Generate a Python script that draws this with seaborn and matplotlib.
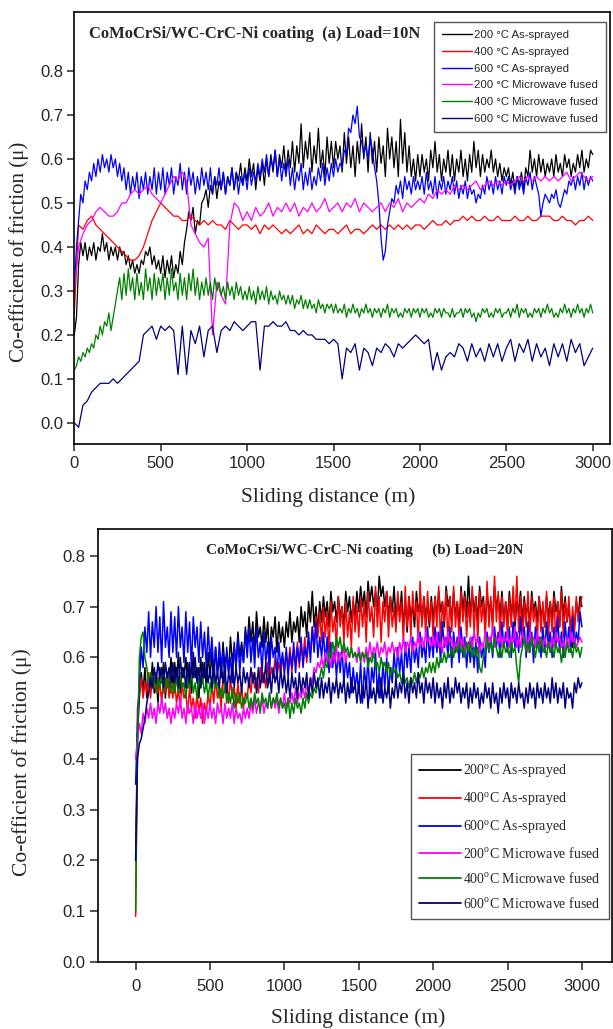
import numpy as np
import pandas as pd
import matplotlib
matplotlib.use("Agg")
import matplotlib.pyplot as plt
import seaborn as sns

# ---------------- data ----------------
SERIES = ["200 As-sprayed", "400 As-sprayed", "600 As-sprayed",
          "200 Microwave fused", "400 Microwave fused", "600 Microwave fused"]
COLORS = ["#000000", "#ff0000", "#0000ff", "#ff00ff", "#008000", "#000080"]
LABELS_A = ["200 °C As-sprayed", "400 °C As-sprayed", "600 °C As-sprayed",
            "200 °C Microwave fused", "400 °C Microwave fused", "600 °C Microwave fused"]
LABELS_B = ["200$^{\\mathregular{o}}$C As-sprayed", "400$^{\\mathregular{o}}$C As-sprayed",
            "600$^{\\mathregular{o}}$C As-sprayed", "200$^{\\mathregular{o}}$C Microwave fused",
            "400$^{\\mathregular{o}}$C Microwave fused", "600$^{\\mathregular{o}}$C Microwave fused"]
X_TICKS = [0, 500, 1000, 1500, 2000, 2500, 3000]
Y_TICKS = [0.0, 0.1, 0.2, 0.3, 0.4, 0.5, 0.6, 0.7, 0.8]

DIST = [i * 25.0 for i in range(121)]        # readings every 25 m
DIST_FINE = [i * 12.5 for i in range(241)]   # readings every 12.5 m

# ---- panel (a) Load = 10 N ----
a_200_as = [0.20, 0.24, 0.36, 0.41, 0.38, 0.41, 0.37, 0.40, 0.38, 0.41, 0.37, 0.40, 0.39, 0.43, 0.39, 0.41, 0.37, 0.40, 0.38, 0.40,
            0.37, 0.40, 0.38, 0.39, 0.36, 0.38, 0.35, 0.37, 0.34, 0.36, 0.34, 0.37, 0.36, 0.39, 0.38, 0.40, 0.36, 0.38, 0.35, 0.37,
            0.34, 0.38, 0.33, 0.37, 0.34, 0.38, 0.33, 0.36, 0.34, 0.39, 0.36, 0.41, 0.44, 0.48, 0.46, 0.49, 0.43, 0.46, 0.45, 0.50,
            0.51, 0.53, 0.49, 0.54, 0.52, 0.56, 0.51, 0.55, 0.53, 0.57, 0.52, 0.56, 0.54, 0.58, 0.53, 0.57, 0.55, 0.59, 0.54, 0.58,
            0.55, 0.60, 0.56, 0.59, 0.53, 0.58, 0.55, 0.59, 0.54, 0.60, 0.56, 0.61, 0.57, 0.62, 0.56, 0.61, 0.58, 0.63, 0.57, 0.62,
            0.58, 0.64, 0.57, 0.63, 0.59, 0.68, 0.58, 0.64, 0.60, 0.66, 0.57, 0.63, 0.59, 0.67, 0.58, 0.62, 0.56, 0.65, 0.59, 0.64,
            0.58, 0.64, 0.60, 0.63, 0.57, 0.66, 0.59, 0.65, 0.58, 0.63, 0.56, 0.64, 0.59, 0.68, 0.60, 0.65, 0.57, 0.66, 0.59, 0.64,
            0.57, 0.65, 0.59, 0.63, 0.56, 0.67, 0.60, 0.65, 0.58, 0.64, 0.56, 0.69, 0.59, 0.66, 0.57, 0.63, 0.56, 0.60, 0.55, 0.61,
            0.56, 0.61, 0.57, 0.60, 0.55, 0.62, 0.58, 0.64, 0.57, 0.61, 0.55, 0.60, 0.57, 0.62, 0.56, 0.61, 0.55, 0.60, 0.57, 0.62,
            0.56, 0.60, 0.55, 0.61, 0.57, 0.64, 0.58, 0.62, 0.56, 0.61, 0.57, 0.60, 0.58, 0.62, 0.57, 0.60, 0.56, 0.59, 0.55, 0.58,
            0.56, 0.58, 0.54, 0.57, 0.53, 0.56, 0.54, 0.57, 0.53, 0.58, 0.56, 0.62, 0.57, 0.60, 0.56, 0.61, 0.57, 0.60, 0.56, 0.59,
            0.57, 0.60, 0.56, 0.61, 0.57, 0.59, 0.56, 0.61, 0.58, 0.60, 0.56, 0.59, 0.57, 0.61, 0.58, 0.62, 0.57, 0.60, 0.58, 0.62,
            0.61]
a_400_as = [0.25, 0.45, 0.44, 0.46, 0.47, 0.45, 0.44, 0.43, 0.42, 0.41,
            0.40, 0.39, 0.38, 0.37, 0.37, 0.38, 0.40, 0.43, 0.46, 0.48,
            0.50, 0.49, 0.48, 0.47, 0.47, 0.46, 0.46, 0.47, 0.46, 0.45,
            0.46, 0.45, 0.46, 0.45, 0.45, 0.44, 0.46, 0.45, 0.44, 0.45,
            0.45, 0.44, 0.45, 0.43, 0.45, 0.44, 0.45, 0.44, 0.43, 0.44,
            0.43, 0.44, 0.45, 0.43, 0.44, 0.43, 0.45, 0.44, 0.43, 0.44,
            0.44, 0.43, 0.44, 0.45, 0.43, 0.44, 0.44, 0.43, 0.44, 0.45,
            0.44, 0.45, 0.44, 0.45, 0.44, 0.45, 0.44, 0.45, 0.44, 0.45,
            0.45, 0.44, 0.45, 0.46, 0.45, 0.45, 0.46, 0.45, 0.46, 0.46,
            0.47, 0.46, 0.47, 0.46, 0.46, 0.47, 0.46, 0.46, 0.47, 0.46,
            0.46, 0.46, 0.47, 0.46, 0.46, 0.47, 0.46, 0.46, 0.47, 0.47,
            0.47, 0.46, 0.46, 0.47, 0.46, 0.46, 0.45, 0.46, 0.46, 0.47,
            0.46]
a_600_as = [0.30, 0.40, 0.46, 0.52, 0.50, 0.55, 0.53, 0.57, 0.55, 0.59, 0.56, 0.60, 0.57, 0.61, 0.58, 0.60, 0.57, 0.61, 0.58, 0.60,
            0.56, 0.59, 0.55, 0.58, 0.53, 0.57, 0.52, 0.56, 0.53, 0.57, 0.51, 0.56, 0.53, 0.57, 0.52, 0.56, 0.53, 0.58, 0.52, 0.57,
            0.53, 0.58, 0.52, 0.57, 0.54, 0.58, 0.52, 0.56, 0.54, 0.59, 0.53, 0.57, 0.52, 0.58, 0.54, 0.57, 0.52, 0.56, 0.53, 0.58,
            0.54, 0.57, 0.53, 0.58, 0.52, 0.56, 0.54, 0.58, 0.53, 0.57, 0.52, 0.56, 0.54, 0.58, 0.53, 0.57, 0.52, 0.56, 0.54, 0.57,
            0.53, 0.58, 0.54, 0.57, 0.55, 0.59, 0.56, 0.60, 0.57, 0.61, 0.56, 0.60, 0.58, 0.62, 0.56, 0.60, 0.55, 0.59, 0.56, 0.60,
            0.54, 0.58, 0.53, 0.57, 0.55, 0.59, 0.53, 0.57, 0.54, 0.58, 0.53, 0.56, 0.54, 0.58, 0.55, 0.59, 0.54, 0.58, 0.55, 0.59,
            0.56, 0.60, 0.57, 0.59, 0.58, 0.62, 0.61, 0.67, 0.66, 0.70, 0.68, 0.72, 0.65, 0.64, 0.61, 0.63, 0.60, 0.65, 0.62, 0.58,
            0.55, 0.50, 0.42, 0.37, 0.39, 0.45, 0.48, 0.51, 0.50, 0.54, 0.52, 0.55, 0.51, 0.56, 0.53, 0.55, 0.52, 0.56, 0.53, 0.55,
            0.53, 0.56, 0.52, 0.57, 0.53, 0.55, 0.52, 0.56, 0.51, 0.55, 0.53, 0.56, 0.52, 0.55, 0.53, 0.56, 0.52, 0.55, 0.51, 0.54,
            0.52, 0.55, 0.51, 0.54, 0.52, 0.53, 0.50, 0.52, 0.51, 0.54, 0.52, 0.56, 0.53, 0.55, 0.52, 0.56, 0.53, 0.55, 0.52, 0.56,
            0.54, 0.56, 0.53, 0.55, 0.52, 0.56, 0.53, 0.55, 0.52, 0.56, 0.54, 0.57, 0.53, 0.56, 0.54, 0.52, 0.47, 0.50, 0.52, 0.51,
            0.50, 0.52, 0.51, 0.53, 0.50, 0.49, 0.51, 0.53, 0.52, 0.55, 0.54, 0.56, 0.53, 0.56, 0.54, 0.57, 0.53, 0.56, 0.54, 0.56,
            0.55]
a_200_mw = [0.30, 0.40, 0.43, 0.45, 0.46, 0.48, 0.49, 0.48, 0.47, 0.47,
            0.48, 0.50, 0.50, 0.52, 0.53, 0.52, 0.53, 0.54, 0.52, 0.51,
            0.50, 0.52, 0.54, 0.56, 0.55, 0.57, 0.55, 0.45, 0.43, 0.41,
            0.40, 0.42, 0.20, 0.32, 0.29, 0.27, 0.45, 0.50, 0.49, 0.46,
            0.48, 0.46, 0.49, 0.47, 0.48, 0.50, 0.47, 0.49, 0.48, 0.50,
            0.48, 0.50, 0.47, 0.49, 0.48, 0.50, 0.48, 0.49, 0.51, 0.48,
            0.49, 0.50, 0.48, 0.50, 0.49, 0.51, 0.48, 0.50, 0.49, 0.48,
            0.49, 0.50, 0.48, 0.50, 0.49, 0.51, 0.48, 0.50, 0.49, 0.50,
            0.51, 0.50, 0.52, 0.51, 0.53, 0.52, 0.53, 0.52, 0.54, 0.53,
            0.54, 0.53, 0.54, 0.55, 0.53, 0.54, 0.55, 0.54, 0.55, 0.54,
            0.55, 0.54, 0.55, 0.56, 0.55, 0.56, 0.55, 0.56, 0.55, 0.56,
            0.55, 0.56, 0.55, 0.56, 0.57, 0.55, 0.56, 0.57, 0.56, 0.55,
            0.56]
a_400_mw = [0.12, 0.13, 0.15, 0.14, 0.16, 0.15, 0.17, 0.16, 0.18, 0.17, 0.20, 0.19, 0.22, 0.20, 0.23, 0.22, 0.25, 0.21, 0.24, 0.27,
            0.30, 0.33, 0.28, 0.34, 0.29, 0.35, 0.30, 0.33, 0.28, 0.34, 0.29, 0.32, 0.28, 0.35, 0.30, 0.33, 0.28, 0.34, 0.29, 0.33,
            0.30, 0.34, 0.28, 0.33, 0.29, 0.35, 0.30, 0.32, 0.28, 0.34, 0.29, 0.33, 0.28, 0.34, 0.30, 0.35, 0.29, 0.33, 0.28, 0.32,
            0.29, 0.33, 0.29, 0.32, 0.28, 0.33, 0.30, 0.32, 0.29, 0.31, 0.28, 0.32, 0.29, 0.31, 0.28, 0.32, 0.29, 0.31, 0.28, 0.30,
            0.28, 0.31, 0.28, 0.30, 0.27, 0.31, 0.28, 0.30, 0.28, 0.31, 0.27, 0.30, 0.28, 0.29, 0.27, 0.30, 0.28, 0.29, 0.27, 0.29,
            0.27, 0.29, 0.26, 0.28, 0.27, 0.29, 0.26, 0.28, 0.26, 0.28, 0.26, 0.27, 0.25, 0.28, 0.26, 0.27, 0.25, 0.27, 0.26, 0.27,
            0.25, 0.27, 0.25, 0.26, 0.25, 0.27, 0.24, 0.26, 0.25, 0.27, 0.25, 0.26, 0.24, 0.26, 0.25, 0.27, 0.25, 0.26, 0.24, 0.26,
            0.25, 0.26, 0.24, 0.26, 0.25, 0.27, 0.24, 0.26, 0.25, 0.26, 0.24, 0.25, 0.24, 0.26, 0.25, 0.26, 0.24, 0.26, 0.25, 0.26,
            0.24, 0.26, 0.25, 0.26, 0.24, 0.25, 0.24, 0.26, 0.25, 0.26, 0.24, 0.26, 0.25, 0.25, 0.24, 0.26, 0.24, 0.25, 0.25, 0.26,
            0.24, 0.26, 0.25, 0.26, 0.24, 0.25, 0.23, 0.25, 0.24, 0.26, 0.25, 0.26, 0.24, 0.25, 0.24, 0.26, 0.25, 0.26, 0.24, 0.25,
            0.25, 0.26, 0.24, 0.26, 0.25, 0.27, 0.24, 0.26, 0.25, 0.26, 0.24, 0.25, 0.24, 0.26, 0.25, 0.26, 0.24, 0.26, 0.25, 0.27,
            0.25, 0.26, 0.24, 0.25, 0.24, 0.26, 0.25, 0.27, 0.25, 0.26, 0.24, 0.26, 0.25, 0.27, 0.25, 0.26, 0.24, 0.26, 0.25, 0.27,
            0.25]
a_600_mw = [0.00, -0.01, 0.04, 0.05, 0.07, 0.08, 0.09, 0.09, 0.09, 0.10,
            0.09, 0.10, 0.11, 0.12, 0.13, 0.14, 0.20, 0.21, 0.22, 0.19,
            0.22, 0.21, 0.22, 0.21, 0.11, 0.22, 0.11, 0.21, 0.18, 0.22,
            0.15, 0.21, 0.22, 0.16, 0.21, 0.22, 0.21, 0.23, 0.22, 0.21,
            0.22, 0.23, 0.23, 0.12, 0.22, 0.22, 0.23, 0.22, 0.22, 0.23,
            0.21, 0.21, 0.20, 0.21, 0.20, 0.20, 0.19, 0.19, 0.19, 0.18,
            0.19, 0.18, 0.10, 0.17, 0.16, 0.18, 0.12, 0.17, 0.16, 0.13,
            0.17, 0.16, 0.18, 0.17, 0.15, 0.18, 0.17, 0.18, 0.19, 0.20,
            0.19, 0.18, 0.19, 0.12, 0.16, 0.12, 0.15, 0.16, 0.15, 0.18,
            0.17, 0.14, 0.18, 0.15, 0.17, 0.14, 0.18, 0.15, 0.18, 0.14,
            0.17, 0.19, 0.14, 0.18, 0.16, 0.19, 0.14, 0.18, 0.15, 0.17,
            0.13, 0.18, 0.15, 0.18, 0.14, 0.19, 0.16, 0.18, 0.13, 0.15,
            0.17]

# ---- panel (b) Load = 20 N (readings every 12.5 m) ----
b_200_as = [0.20, 0.45, 0.52, 0.57, 0.53, 0.58, 0.52, 0.56, 0.54, 0.59, 0.53, 0.57, 0.51, 0.58, 0.55, 0.59, 0.52, 0.57, 0.54, 0.60,
            0.54, 0.59, 0.55, 0.61, 0.53, 0.58, 0.56, 0.60, 0.54, 0.59, 0.53, 0.61, 0.56, 0.58, 0.52, 0.60, 0.55, 0.59, 0.54, 0.61,
            0.56, 0.61, 0.55, 0.62, 0.57, 0.60, 0.56, 0.63, 0.58, 0.61, 0.57, 0.64, 0.59, 0.62, 0.58, 0.65, 0.60, 0.63, 0.59, 0.66,
            0.62, 0.68, 0.63, 0.67, 0.61, 0.69, 0.64, 0.66, 0.62, 0.68, 0.63, 0.67, 0.60, 0.66, 0.64, 0.68, 0.61, 0.67, 0.63, 0.66,
            0.62, 0.67, 0.64, 0.69, 0.63, 0.67, 0.65, 0.68, 0.63, 0.70, 0.66, 0.69, 0.64, 0.71, 0.67, 0.73, 0.66, 0.70, 0.65, 0.71,
            0.67, 0.72, 0.68, 0.71, 0.66, 0.73, 0.69, 0.71, 0.67, 0.72, 0.68, 0.70, 0.66, 0.73, 0.69, 0.72, 0.67, 0.71, 0.68, 0.73,
            0.69, 0.74, 0.70, 0.73, 0.68, 0.75, 0.71, 0.74, 0.70, 0.73, 0.69, 0.76, 0.72, 0.74, 0.70, 0.73, 0.68, 0.72, 0.69, 0.74,
            0.67, 0.72, 0.68, 0.73, 0.66, 0.71, 0.65, 0.72, 0.68, 0.70, 0.66, 0.73, 0.69, 0.71, 0.67, 0.72, 0.68, 0.70, 0.66, 0.72,
            0.67, 0.72, 0.68, 0.73, 0.69, 0.71, 0.66, 0.74, 0.70, 0.72, 0.67, 0.73, 0.68, 0.71, 0.66, 0.74, 0.69, 0.73, 0.68, 0.76,
            0.68, 0.73, 0.69, 0.72, 0.67, 0.74, 0.70, 0.72, 0.66, 0.73, 0.69, 0.71, 0.67, 0.74, 0.70, 0.72, 0.68, 0.73, 0.67, 0.71,
            0.67, 0.73, 0.68, 0.72, 0.66, 0.71, 0.69, 0.73, 0.67, 0.72, 0.68, 0.71, 0.66, 0.73, 0.69, 0.71, 0.67, 0.72, 0.68, 0.70,
            0.66, 0.72, 0.68, 0.71, 0.67, 0.73, 0.69, 0.71, 0.66, 0.74, 0.68, 0.72, 0.67, 0.70, 0.65, 0.62, 0.66, 0.71, 0.68, 0.72,
            0.70]
b_400_as = [0.09, 0.50, 0.53, 0.56, 0.52, 0.55, 0.53, 0.57, 0.52, 0.56, 0.54, 0.57, 0.53, 0.55, 0.51, 0.56, 0.53, 0.57, 0.52, 0.55,
            0.52, 0.55, 0.51, 0.54, 0.50, 0.55, 0.52, 0.53, 0.49, 0.54, 0.50, 0.52, 0.48, 0.53, 0.49, 0.52, 0.47, 0.51, 0.49, 0.53,
            0.50, 0.55, 0.51, 0.56, 0.52, 0.54, 0.50, 0.57, 0.53, 0.55, 0.51, 0.56, 0.52, 0.54, 0.50, 0.55, 0.51, 0.54, 0.50, 0.53,
            0.52, 0.56, 0.53, 0.57, 0.54, 0.56, 0.53, 0.58, 0.55, 0.57, 0.54, 0.59, 0.55, 0.58, 0.56, 0.60, 0.56, 0.59, 0.57, 0.60,
            0.57, 0.61, 0.58, 0.62, 0.57, 0.61, 0.59, 0.63, 0.58, 0.62, 0.60, 0.64, 0.59, 0.63, 0.61, 0.66, 0.62, 0.68, 0.64, 0.69,
            0.63, 0.70, 0.64, 0.69, 0.61, 0.71, 0.65, 0.68, 0.62, 0.72, 0.66, 0.70, 0.63, 0.71, 0.64, 0.69, 0.62, 0.72, 0.65, 0.70,
            0.64, 0.72, 0.66, 0.71, 0.63, 0.73, 0.67, 0.70, 0.64, 0.74, 0.66, 0.72, 0.63, 0.71, 0.67, 0.73, 0.64, 0.72, 0.66, 0.70,
            0.65, 0.73, 0.67, 0.71, 0.63, 0.74, 0.66, 0.72, 0.64, 0.73, 0.68, 0.71, 0.63, 0.75, 0.66, 0.72, 0.64, 0.73, 0.67, 0.71,
            0.64, 0.72, 0.66, 0.74, 0.63, 0.71, 0.67, 0.73, 0.62, 0.72, 0.65, 0.74, 0.66, 0.71, 0.63, 0.73, 0.67, 0.72, 0.64, 0.71,
            0.66, 0.74, 0.65, 0.72, 0.63, 0.73, 0.67, 0.71, 0.64, 0.75, 0.66, 0.72, 0.65, 0.76, 0.67, 0.73, 0.64, 0.72, 0.66, 0.71,
            0.64, 0.72, 0.66, 0.74, 0.67, 0.76, 0.65, 0.72, 0.63, 0.71, 0.66, 0.73, 0.64, 0.72, 0.67, 0.70, 0.63, 0.72, 0.65, 0.71,
            0.66, 0.73, 0.64, 0.71, 0.65, 0.72, 0.63, 0.71, 0.66, 0.73, 0.64, 0.71, 0.67, 0.72, 0.64, 0.70, 0.65, 0.72, 0.67, 0.70,
            0.72]
b_600_as = [0.35, 0.47, 0.55, 0.62, 0.58, 0.66, 0.61, 0.69, 0.60, 0.67, 0.62, 0.70, 0.61, 0.68, 0.59, 0.71, 0.62, 0.66, 0.60, 0.69,
            0.61, 0.68, 0.60, 0.70, 0.62, 0.66, 0.59, 0.69, 0.61, 0.67, 0.58, 0.68, 0.62, 0.66, 0.59, 0.67, 0.60, 0.65, 0.58, 0.66,
            0.59, 0.64, 0.57, 0.62, 0.56, 0.63, 0.58, 0.61, 0.55, 0.62, 0.57, 0.60, 0.55, 0.63, 0.58, 0.64, 0.57, 0.62, 0.59, 0.65,
            0.60, 0.66, 0.59, 0.64, 0.58, 0.66, 0.60, 0.63, 0.57, 0.65, 0.59, 0.63, 0.57, 0.64, 0.60, 0.62, 0.56, 0.63, 0.58, 0.61,
            0.57, 0.62, 0.56, 0.61, 0.58, 0.63, 0.57, 0.62, 0.59, 0.64, 0.58, 0.62, 0.60, 0.65, 0.59, 0.66, 0.61, 0.67, 0.60, 0.64,
            0.60, 0.65, 0.59, 0.64, 0.57, 0.63, 0.58, 0.62, 0.56, 0.61, 0.57, 0.62, 0.55, 0.60, 0.56, 0.59, 0.53, 0.58, 0.54, 0.57,
            0.53, 0.59, 0.51, 0.58, 0.54, 0.60, 0.52, 0.58, 0.55, 0.61, 0.53, 0.57, 0.52, 0.59, 0.54, 0.60, 0.53, 0.58, 0.55, 0.61,
            0.56, 0.62, 0.57, 0.61, 0.55, 0.63, 0.58, 0.62, 0.57, 0.64, 0.59, 0.62, 0.58, 0.65, 0.60, 0.63, 0.59, 0.66, 0.60, 0.64,
            0.60, 0.66, 0.61, 0.65, 0.59, 0.67, 0.62, 0.64, 0.60, 0.66, 0.58, 0.65, 0.61, 0.64, 0.59, 0.66, 0.60, 0.64, 0.58, 0.63,
            0.59, 0.64, 0.58, 0.63, 0.57, 0.64, 0.60, 0.62, 0.58, 0.65, 0.61, 0.64, 0.60, 0.66, 0.62, 0.65, 0.60, 0.67, 0.62, 0.65,
            0.61, 0.66, 0.60, 0.67, 0.62, 0.65, 0.61, 0.68, 0.62, 0.66, 0.60, 0.67, 0.61, 0.65, 0.59, 0.66, 0.62, 0.64, 0.60, 0.66,
            0.61, 0.67, 0.62, 0.65, 0.60, 0.66, 0.62, 0.68, 0.61, 0.65, 0.60, 0.67, 0.62, 0.66, 0.61, 0.68, 0.62, 0.65, 0.63, 0.69,
            0.66]
b_200_mw = [0.40, 0.44, 0.47, 0.45, 0.49, 0.47, 0.50, 0.48, 0.51, 0.48, 0.50, 0.47, 0.51, 0.49, 0.52, 0.49, 0.51, 0.48, 0.50, 0.47,
            0.50, 0.48, 0.51, 0.49, 0.52, 0.48, 0.50, 0.47, 0.51, 0.49, 0.50, 0.47, 0.51, 0.48, 0.50, 0.48, 0.51, 0.47, 0.50, 0.48,
            0.51, 0.48, 0.50, 0.47, 0.51, 0.49, 0.50, 0.47, 0.51, 0.48, 0.50, 0.48, 0.51, 0.47, 0.50, 0.48, 0.49, 0.47, 0.50, 0.48,
            0.50, 0.48, 0.51, 0.49, 0.52, 0.49, 0.51, 0.50, 0.52, 0.49, 0.51, 0.50, 0.53, 0.50, 0.52, 0.50, 0.52, 0.49, 0.52, 0.50,
            0.53, 0.50, 0.52, 0.51, 0.53, 0.51, 0.54, 0.51, 0.53, 0.52, 0.54, 0.52, 0.55, 0.53, 0.56, 0.55, 0.58, 0.57, 0.59, 0.58,
            0.60, 0.58, 0.61, 0.59, 0.60, 0.58, 0.61, 0.59, 0.62, 0.59, 0.61, 0.60, 0.62, 0.59, 0.61, 0.60, 0.62, 0.60, 0.61, 0.59,
            0.62, 0.60, 0.61, 0.59, 0.62, 0.60, 0.63, 0.60, 0.62, 0.61, 0.63, 0.60, 0.62, 0.61, 0.63, 0.60, 0.62, 0.61, 0.63, 0.61,
            0.62, 0.60, 0.63, 0.61, 0.64, 0.61, 0.63, 0.62, 0.64, 0.61, 0.63, 0.62, 0.65, 0.62, 0.64, 0.62, 0.65, 0.63, 0.64, 0.62,
            0.64, 0.62, 0.65, 0.62, 0.63, 0.61, 0.64, 0.62, 0.65, 0.63, 0.64, 0.61, 0.63, 0.62, 0.65, 0.62, 0.64, 0.61, 0.63, 0.62,
            0.64, 0.62, 0.65, 0.63, 0.64, 0.61, 0.63, 0.62, 0.65, 0.62, 0.64, 0.63, 0.66, 0.62, 0.64, 0.63, 0.65, 0.62, 0.64, 0.63,
            0.65, 0.62, 0.64, 0.63, 0.66, 0.62, 0.64, 0.62, 0.65, 0.63, 0.64, 0.61, 0.65, 0.63, 0.64, 0.62, 0.65, 0.63, 0.64, 0.62,
            0.64, 0.62, 0.63, 0.61, 0.64, 0.62, 0.65, 0.63, 0.64, 0.62, 0.63, 0.61, 0.64, 0.62, 0.65, 0.63, 0.64, 0.62, 0.63, 0.64,
            0.63]
b_400_mw = [0.10, 0.42, 0.60, 0.64, 0.65, 0.60, 0.58, 0.55, 0.57, 0.54, 0.56, 0.53, 0.56, 0.54, 0.57, 0.53, 0.56, 0.54, 0.57, 0.53,
            0.55, 0.53, 0.56, 0.53, 0.57, 0.54, 0.55, 0.52, 0.56, 0.54, 0.57, 0.53, 0.55, 0.52, 0.56, 0.54, 0.56, 0.53, 0.55, 0.52,
            0.55, 0.53, 0.56, 0.54, 0.55, 0.52, 0.54, 0.52, 0.55, 0.51, 0.53, 0.51, 0.54, 0.50, 0.53, 0.51, 0.53, 0.50, 0.52, 0.51,
            0.53, 0.50, 0.52, 0.50, 0.53, 0.51, 0.52, 0.49, 0.53, 0.51, 0.52, 0.50, 0.53, 0.50, 0.52, 0.51, 0.53, 0.50, 0.52, 0.50,
            0.51, 0.49, 0.52, 0.48, 0.51, 0.49, 0.52, 0.50, 0.51, 0.49, 0.52, 0.50, 0.53, 0.51, 0.53, 0.52, 0.54, 0.53, 0.55, 0.56,
            0.58, 0.56, 0.59, 0.58, 0.61, 0.60, 0.63, 0.61, 0.64, 0.62, 0.64, 0.61, 0.63, 0.61, 0.62, 0.60, 0.62, 0.60, 0.61, 0.60,
            0.61, 0.59, 0.61, 0.60, 0.61, 0.58, 0.60, 0.59, 0.61, 0.58, 0.59, 0.57, 0.60, 0.58, 0.59, 0.57, 0.59, 0.56, 0.58, 0.57,
            0.58, 0.56, 0.57, 0.55, 0.57, 0.55, 0.56, 0.54, 0.56, 0.55, 0.57, 0.55, 0.57, 0.56, 0.58, 0.56, 0.58, 0.57, 0.59, 0.57,
            0.59, 0.57, 0.60, 0.58, 0.60, 0.59, 0.61, 0.59, 0.61, 0.60, 0.62, 0.60, 0.62, 0.61, 0.63, 0.61, 0.62, 0.60, 0.63, 0.61,
            0.63, 0.60, 0.62, 0.60, 0.62, 0.58, 0.57, 0.60, 0.62, 0.64, 0.61, 0.63, 0.61, 0.64, 0.62, 0.60, 0.62, 0.60, 0.63, 0.61,
            0.62, 0.60, 0.63, 0.61, 0.62, 0.58, 0.55, 0.60, 0.62, 0.64, 0.61, 0.63, 0.61, 0.64, 0.62, 0.60, 0.63, 0.61, 0.64, 0.61,
            0.62, 0.60, 0.63, 0.61, 0.62, 0.60, 0.63, 0.61, 0.62, 0.59, 0.62, 0.60, 0.63, 0.61, 0.62, 0.60, 0.63, 0.61, 0.62, 0.60,
            0.62]
b_600_mw = [0.20, 0.40, 0.43, 0.44, 0.46, 0.48, 0.51, 0.53, 0.56, 0.54, 0.58, 0.55, 0.59, 0.56, 0.58, 0.54, 0.59, 0.56, 0.58, 0.55,
            0.59, 0.55, 0.58, 0.54, 0.60, 0.56, 0.58, 0.54, 0.59, 0.55, 0.58, 0.56, 0.60, 0.55, 0.58, 0.54, 0.59, 0.56, 0.58, 0.55,
            0.58, 0.54, 0.59, 0.55, 0.57, 0.54, 0.59, 0.55, 0.58, 0.53, 0.57, 0.55, 0.59, 0.54, 0.58, 0.55, 0.57, 0.53, 0.58, 0.55,
            0.57, 0.54, 0.58, 0.55, 0.57, 0.53, 0.58, 0.54, 0.57, 0.55, 0.59, 0.54, 0.57, 0.53, 0.58, 0.55, 0.57, 0.53, 0.58, 0.54,
            0.57, 0.53, 0.56, 0.52, 0.57, 0.54, 0.56, 0.52, 0.57, 0.53, 0.56, 0.54, 0.57, 0.52, 0.56, 0.53, 0.57, 0.54, 0.56, 0.52,
            0.56, 0.52, 0.55, 0.53, 0.56, 0.51, 0.55, 0.53, 0.56, 0.52, 0.55, 0.53, 0.56, 0.51, 0.55, 0.52, 0.56, 0.53, 0.55, 0.51,
            0.55, 0.51, 0.54, 0.52, 0.56, 0.50, 0.55, 0.52, 0.54, 0.51, 0.55, 0.52, 0.56, 0.51, 0.54, 0.52, 0.55, 0.50, 0.54, 0.52,
            0.56, 0.52, 0.55, 0.53, 0.57, 0.52, 0.55, 0.51, 0.56, 0.53, 0.55, 0.52, 0.57, 0.53, 0.55, 0.51, 0.56, 0.53, 0.55, 0.52,
            0.56, 0.51, 0.55, 0.52, 0.54, 0.50, 0.55, 0.52, 0.56, 0.51, 0.54, 0.52, 0.56, 0.53, 0.55, 0.51, 0.54, 0.52, 0.55, 0.50,
            0.54, 0.51, 0.55, 0.52, 0.54, 0.50, 0.53, 0.51, 0.55, 0.52, 0.54, 0.50, 0.55, 0.51, 0.53, 0.49, 0.54, 0.51, 0.55, 0.52,
            0.54, 0.50, 0.55, 0.52, 0.54, 0.51, 0.55, 0.52, 0.53, 0.50, 0.54, 0.51, 0.55, 0.52, 0.54, 0.50, 0.55, 0.52, 0.54, 0.51,
            0.55, 0.52, 0.54, 0.51, 0.56, 0.52, 0.55, 0.51, 0.54, 0.52, 0.55, 0.50, 0.54, 0.52, 0.53, 0.50, 0.55, 0.53, 0.56, 0.54,
            0.55]

PANEL_A = [a_200_as, a_400_as, a_600_as, a_200_mw, a_400_mw, a_600_mw]
PANEL_B = [b_200_as, b_400_as, b_600_as, b_200_mw, b_400_mw, b_600_mw]


def long_frame(values):
    rows = []
    for name, vals in zip(SERIES, values):
        dist = DIST if len(vals) == len(DIST) else DIST_FINE
        n = min(len(vals), len(dist))
        rows.append(pd.DataFrame({"dist": dist[:n], "cof": vals[:n], "series": name}))
    return pd.concat(rows, ignore_index=True)


# ---------------- style ----------------
sns.set_theme(style="ticks")
plt.rcParams["font.family"] = ["Liberation Sans", "DejaVu Sans"]
plt.rcParams["mathtext.fontset"] = "custom"
plt.rcParams["mathtext.rm"] = "Liberation Serif"
plt.rcParams["axes.linewidth"] = 1.2
plt.rcParams["xtick.major.width"] = 1.1
plt.rcParams["ytick.major.width"] = 1.1

SERIF = "Liberation Serif"
SANS = "Liberation Sans"

fig = plt.figure(figsize=(6.13, 10.29), dpi=100)
fig.patch.set_facecolor("white")

ax_a = fig.add_axes([0.1212, 0.5685, 0.9951 - 0.1212, 0.9883 - 0.5685])
ax_b = fig.add_axes([0.1594, 0.0651, 0.999 - 0.1594, 0.4859 - 0.0651])

palette = dict(zip(SERIES, COLORS))

sns.lineplot(data=long_frame(PANEL_A), x="dist", y="cof", hue="series",
             hue_order=SERIES, palette=palette, estimator=None, sort=False,
             linewidth=0.9, ax=ax_a, legend=False)
sns.lineplot(data=long_frame(PANEL_B), x="dist", y="cof", hue="series",
             hue_order=SERIES, palette=palette, estimator=None, sort=False,
             linewidth=1.1, ax=ax_b, legend=False)

# ---------------- panel (a) ----------------
ax_a.set_xlim(0, 3100)
ax_a.set_ylim(-0.048, 0.934)
ax_a.set_xticks(X_TICKS)
ax_a.set_yticks(Y_TICKS)
ax_a.set_yticklabels([f"{v:.1f}" for v in Y_TICKS])
ax_a.tick_params(axis="both", direction="out", length=5, labelsize=12, pad=3)
ax_a.tick_params(axis="x", pad=3.5)
for lab in ax_a.get_xticklabels() + ax_a.get_yticklabels():
    lab.set_fontfamily(SANS)
ax_a.set_xlabel("Sliding distance (m)", fontfamily=SERIF, fontsize=15.5)
ax_a.set_ylabel("Co-efficient of friction (μ)", fontfamily=SERIF, fontsize=15)
ax_a.xaxis.set_label_coords(0.474, -0.099)
ax_a.yaxis.set_label_coords(-0.085, 0.445)
ax_a.text(0.028, 0.949, "CoMoCrSi/WC-CrC-Ni coating  (a) Load=10N",
          transform=ax_a.transAxes, ha="left", va="center",
          fontfamily=SERIF, fontweight="bold", fontsize=12)
for s in ax_a.spines.values():
    s.set_visible(True)
    s.set_color("black")

handles_a = [plt.Line2D([], [], color=c, lw=1.0) for c in COLORS]
leg_a = ax_a.legend(handles_a, LABELS_A, loc="upper left",
                    bbox_to_anchor=(0.671, 0.977), borderaxespad=0,
                    prop={"family": SANS, "size": 8.2}, frameon=True,
                    fancybox=False, edgecolor="#555555", framealpha=1,
                    handlelength=2.7, handletextpad=0.15, labelspacing=0.6,
                    borderpad=0.7)
leg_a.get_frame().set_linewidth(1.0)

# ---------------- panel (b) ----------------
ax_b.set_xlim(-255, 3205)
ax_b.set_ylim(0.0, 0.853)
ax_b.set_xticks(X_TICKS)
ax_b.set_yticks(Y_TICKS)
ax_b.set_yticklabels([f"{v:.1f}" for v in Y_TICKS])
ax_b.tick_params(axis="both", direction="out", length=6, labelsize=12, pad=3)
ax_b.tick_params(axis="x", pad=6.5)
for lab in ax_b.get_xticklabels() + ax_b.get_yticklabels():
    lab.set_fontfamily(SANS)
ax_b.set_xlabel("Sliding distance (m)", fontfamily=SERIF, fontsize=15.5)
ax_b.set_ylabel("Co-efficient of friction (μ)", fontfamily=SERIF, fontsize=15.5)
ax_b.xaxis.set_label_coords(0.507, -0.106)
ax_b.yaxis.set_label_coords(-0.128, 0.462)
ax_b.text(0.518, 0.951, "CoMoCrSi/WC-CrC-Ni coating     (b) Load=20N",
          transform=ax_b.transAxes, ha="center", va="center",
          fontfamily=SERIF, fontweight="bold", fontsize=11)
for s in ax_b.spines.values():
    s.set_visible(True)
    s.set_color("black")

handles_b = [plt.Line2D([], [], color=c, lw=1.3) for c in COLORS]
leg_b = ax_b.legend(handles_b, LABELS_B, loc="upper left",
                    bbox_to_anchor=(0.608, 0.480), borderaxespad=0,
                    prop={"family": SERIF, "size": 10}, frameon=True,
                    fancybox=False, edgecolor="#555555", framealpha=1,
                    handlelength=3.0, handletextpad=0.2, labelspacing=0.72,
                    borderpad=0.6)
leg_b.get_frame().set_linewidth(1.0)

fig.savefig("out.png", dpi=100, facecolor="white")
